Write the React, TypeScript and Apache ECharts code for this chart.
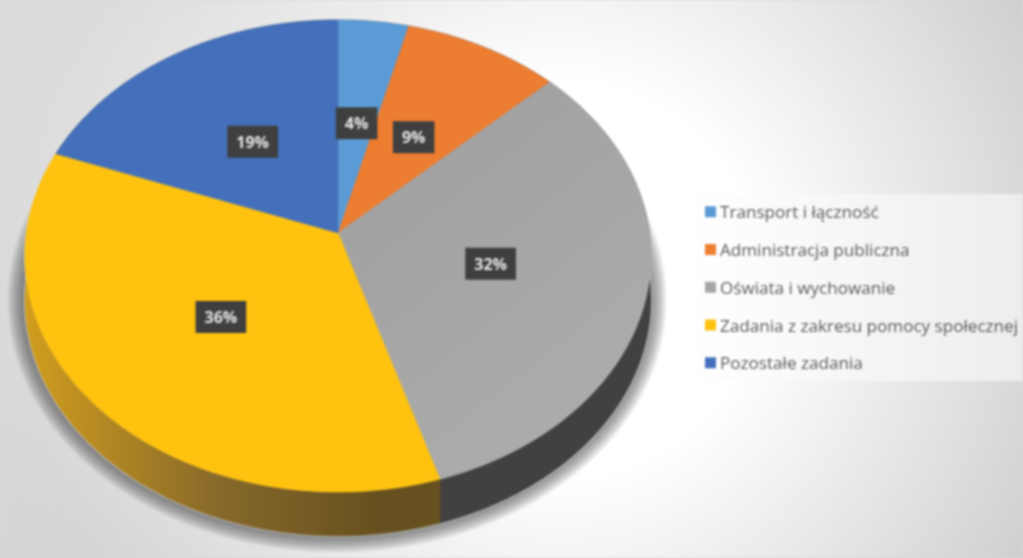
import React, { useEffect, useRef } from "react";
import * as echarts from "echarts";

const categories = [
  "Transport i łączność",
  "Administracja publiczna",
  "Oświata i wychowanie",
  "Zadania z zakresu pomocy społecznej",
  "Pozostałe zadania",
];
const shares = [4, 8.9, 32.3, 35.5, 19.3];
const sliceColors = ["#5b9bd5", "#ed7d31", "#a5a5a5", "#ffc30f", "#4470bb"];

const W = 1023;
const H = 558;
// Perspective projection of a flat disc on to the page
const view = { x0: 338, y0: 233, a: 311.5, b: 233.8, k: -0.0975, depth: 44 };

function project(rho: number, theta: number): number[] {
  const X = rho * Math.sin(theta);
  const Y = -rho * Math.cos(theta);
  const d = 1 + view.k * Y;
  return [view.x0 + (view.a * X) / d, view.y0 + (view.b * Y) / d];
}

const total = shares.reduce((s, v) => s + v, 0);

function sliceElements(i: number, value: number) {
  const before = shares.slice(0, i).reduce((s, v) => s + v, 0);
  const t0 = (before / total) * Math.PI * 2;
  const t1 = ((before + value) / total) * Math.PI * 2;
  const n = Math.max(8, Math.ceil((t1 - t0) * 60));
  const rim: number[][] = [];
  for (let j = 0; j <= n; j++) rim.push(project(1, t0 + ((t1 - t0) * j) / n));
  const top = [[view.x0, view.y0], ...rim];
  const low = rim.map((p) => [p[0], p[1] + view.depth]).reverse();
  const wallFill: any =
    i === 3
      ? {
          type: "linear",
          global: true,
          x: 30,
          y: 0,
          x2: 380,
          y2: 0,
          colorStops: [
            { offset: 0, color: "#cf9c1e" },
            { offset: 0.55, color: "#86682a" },
            { offset: 1, color: "#66501f" },
          ],
        }
      : i === 2
        ? "#414141"
        : "#333333";
  const topFill: any =
    i === 2
      ? {
          type: "linear",
          global: true,
          x: 380,
          y: 120,
          x2: 620,
          y2: 420,
          colorStops: [
            { offset: 0, color: "#a0a0a0" },
            { offset: 1, color: "#adadad" },
          ],
        }
      : sliceColors[i];
  const mid = project(0.5, (t0 + t1) / 2);
  const halo = { stroke: "rgba(228,234,246,0.7)", fill: "none", lineWidth: 2 };
  return {
    type: "group",
    children: [
      { type: "polyline", z2: 0, shape: { points: rim }, style: halo },
      { type: "polyline", z2: 0, shape: { points: low }, style: halo },
      {
        type: "polygon",
        z2: 1,
        shape: { points: [...rim, ...low] },
        style: { fill: wallFill, stroke: wallFill, lineWidth: 0.5 },
      },
      {
        type: "polygon",
        z2: 2,
        shape: { points: top },
        style: { fill: topFill, stroke: topFill, lineWidth: 0.5 },
      },
      {
        type: "text",
        z2: 5,
        style: {
          text: `${Math.round(value)}%`,
          x: mid[0],
          y: mid[1] + 1,
          align: "center",
          verticalAlign: "middle",
          fill: "#e6e6e6",
          font: "bold 16px 'Open Sans', sans-serif",
          backgroundColor: "#3f3f3f",
          padding: [8, 9, 8, 9],
          boxShadowBlur: 4,
          boxShadowColor: "rgba(0,0,0,0.45)",
          boxShadowOffsetX: 1,
          boxShadowOffsetY: 2,
        },
      },
    ],
  };
}

// Soft drop shadow under the disc: stacked translucent ellipses
const shadowLayers = Array.from({ length: 12 }, (_, i) => ({
  type: "ellipse",
  z: -5,
  silent: true,
  shape: { cx: 337, cy: 300, rx: 313 + i * 1.5, ry: 236 + i * 1.5 },
  style: { fill: "rgba(70,70,70,0.075)" },
}));

export default function App() {
  const ref = useRef<HTMLDivElement>(null);
  useEffect(() => {
    document.body.style.margin = "0";
    const chart = echarts.init(ref.current!, null, { renderer: "svg" });
    chart.setOption({
      animation: false,
      backgroundColor: "#ffffff",
      legend: {
        orient: "vertical",
        left: 700,
        top: 196,
        icon: "rect",
        itemWidth: 11,
        itemHeight: 11,
        itemGap: 16.25,
        data: categories,
        selectedMode: false,
        textStyle: {
          color: "#5a5a5a",
          fontFamily: "'Open Sans', sans-serif",
          fontSize: 17.1,
          padding: [0, 0, 0, -1],
          lineHeight: 21.5,
        },
      },
      graphic: [
        {
          type: "rect",
          z: -10,
          silent: true,
          shape: { x: -4, y: -4, width: W + 8, height: H + 8 },
          style: {
            fill: {
              type: "radial",
              global: true,
              x: 560,
              y: 280,
              r: 600,
              colorStops: [
                { offset: 0, color: "#ffffff" },
                { offset: 0.33, color: "#ffffff" },
                { offset: 0.9, color: "#cfcfcf" },
                { offset: 1, color: "#cbcbcb" },
              ],
            },
          },
        },
        {
          type: "rect",
          z: -9.5,
          silent: true,
          shape: { x: -4, y: -4, width: 350, height: H + 8 },
          style: {
            fill: {
              type: "linear",
              x: 0,
              y: 0,
              x2: 1,
              y2: 0.5,
              colorStops: [
                { offset: 0, color: "rgba(255,255,255,0.35)" },
                { offset: 1, color: "rgba(255,255,255,0)" },
              ],
            },
          },
        },
        {
          type: "rect",
          z: -9,
          silent: true,
          shape: { x: 692, y: 194, width: 335, height: 187 },
          style: {
            fill: {
              type: "linear",
              x: 0,
              y: 0,
              x2: 1,
              y2: 0,
              colorStops: [
                { offset: 0, color: "#ffffff" },
                { offset: 1, color: "#ededed" },
              ],
            },
          },
        },
        ...shadowLayers,
      ],
      series: categories.map((name, i) => ({
        type: "custom",
        name,
        coordinateSystem: "none",
        z: 2,
        itemStyle: { color: sliceColors[i] },
        data: [[shares[i]]],
        renderItem: (_p: any, api: any) => sliceElements(i, api.value(0)),
      })),
    });
    return () => chart.dispose();
  }, []);
  return (
    <div style={{ width: W, height: H, overflow: "hidden", background: "#d8d8d8" }}>
      <div ref={ref} style={{ width: W, height: H, filter: "blur(0.8px)" }} />
    </div>
  );
}
